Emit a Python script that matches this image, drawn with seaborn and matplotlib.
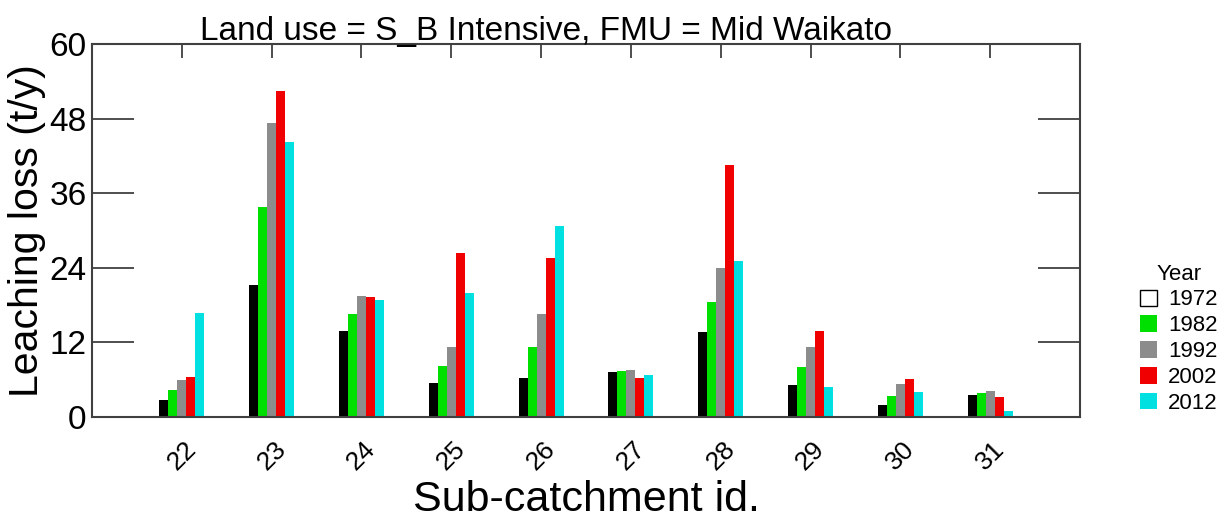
import pandas as pd
import matplotlib
matplotlib.use("Agg")
import matplotlib.pyplot as plt
from matplotlib.patches import Patch
import seaborn as sns

# values (t/y)
catchments = ['22', '23', '24', '25', '26', '27', '28', '29', '30', '31']
years = ['1972', '1982', '1992', '2002', '2012']
loss_1972 = [2.7, 21.2, 13.9, 5.5, 6.3, 7.2, 13.6, 5.2, 1.9, 3.5]
loss_1982 = [4.3, 33.8, 16.5, 8.2, 11.2, 7.4, 18.5, 8.0, 3.4, 3.8]
loss_1992 = [6.0, 47.3, 19.4, 11.2, 16.5, 7.5, 23.9, 11.2, 5.3, 4.2]
loss_2002 = [6.4, 52.4, 19.3, 26.4, 25.6, 6.3, 40.5, 13.8, 6.1, 3.3]
loss_2012 = [16.7, 44.2, 18.9, 19.9, 30.8, 6.7, 25.1, 4.8, 4.0, 1.0]
colours = ['#000000', '#00E000', '#8C8C8C', '#F00000', '#00E0E0']

series = [loss_1972, loss_1982, loss_1992, loss_2002, loss_2012]
rows = []
for yr, vals in zip(years, series):
    for c, v in zip(catchments, vals):
        rows.append({'Sub-catchment': c, 'Year': yr, 'Loss': v})
df = pd.DataFrame(rows)

sns.set_style('white')
plt.rcParams['font.family'] = ['Liberation Sans', 'DejaVu Sans']
plt.rcParams['text.color'] = 'black'
plt.rcParams['axes.labelcolor'] = 'black'
plt.rcParams['xtick.labelcolor'] = 'black'
plt.rcParams['ytick.labelcolor'] = 'black'

fig = plt.figure(figsize=(12.32, 5.22), dpi=100)
ax = fig.add_axes([0.0747, 0.2011, 0.8019, 0.7146])

sns.barplot(data=df, x='Sub-catchment', y='Loss', hue='Year', order=catchments,
            hue_order=years, palette=colours, width=0.5, saturation=1,
            linewidth=0, ax=ax, legend=False)

ax.set_xlim(-1, 10)
ax.set_ylim(0, 60)
ax.set_yticks([0, 12, 24, 36, 48, 60])
ax.set_title('Land use = S_B Intensive, FMU = Mid Waikato', fontsize=24, pad=3,
             x=0.46)
ax.set_xlabel('Sub-catchment id.', fontsize=31, labelpad=4)
ax.set_ylabel('Leaching loss (t/y)', fontsize=29.5, labelpad=2)

for sp in ax.spines.values():
    sp.set_color('#404040')
    sp.set_linewidth(1.5)

ax.tick_params(axis='y', direction='in', length=30, width=1.3, color='#404040',
               labelsize=24, right=True, left=True, pad=4)
ax.tick_params(axis='x', direction='in', length=10, width=1.3, color='#404040',
               labelsize=19, top=True, bottom=False, pad=14)
for lab in ax.get_xticklabels():
    lab.set_rotation(45)
    lab.set_ha('center')

handles = [Patch(facecolor='white', edgecolor='black', linewidth=1)]
handles += [Patch(facecolor=c, edgecolor='none') for c in colours[1:]]
leg = fig.legend(handles, years, title='Year', loc='upper left',
                 bbox_to_anchor=(0.9255, 0.495), frameon=False, fontsize=16,
                 title_fontsize=16, handlelength=0.75, handleheight=0.75,
                 handletextpad=0.5, labelspacing=0.22, borderpad=0,
                 borderaxespad=0)

fig.savefig('out.png', dpi=100)
